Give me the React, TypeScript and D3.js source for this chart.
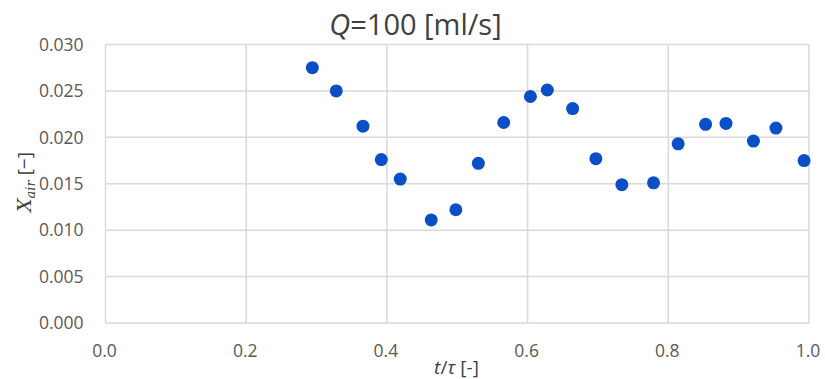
import React from "react";
import * as d3 from "d3";

// Normalized time t/τ and air fraction X_air for each measurement
const tRatio = [0.294, 0.328, 0.366, 0.392, 0.419, 0.463, 0.498, 0.530, 0.566, 0.604, 0.628, 0.664, 0.697, 0.734, 0.779, 0.814, 0.853, 0.882, 0.921, 0.953, 0.993];
const xAir = [0.0275, 0.0250, 0.0212, 0.0176, 0.0155, 0.0111, 0.0122, 0.0172, 0.0216, 0.0244, 0.0251, 0.0231, 0.0177, 0.0149, 0.0151, 0.0193, 0.0214, 0.0215, 0.0196, 0.0210, 0.0175];

const xTicks = [0, 0.2, 0.4, 0.6, 0.8, 1.0];
const yTicks = [0, 0.005, 0.01, 0.015, 0.02, 0.025, 0.03];

const W = 825;
const H = 379;
const FONT = "'Open Sans', 'Noto Sans', sans-serif";

export default function App() {
  const x = d3.scaleLinear().domain([0, 1]).range([105.5, 809]);
  const y = d3.scaleLinear().domain([0, 0.03]).range([323, 44.5]);
  const pts = tRatio.map((t, i) => ({ t, v: xAir[i] }));

  return (
    <svg width={W} height={H} style={{ position: "absolute", left: 0, top: 0, background: "#fff" }}>
      <rect width={W} height={H} fill="#fff" />
      {/* grid */}
      {yTicks.map((v) => (
        <line key={"gy" + v} x1={x(0)} x2={x(1)} y1={y(v)} y2={y(v)} stroke="#d9d9d9" strokeWidth={1.5} />
      ))}
      {xTicks.map((v) => (
        <line key={"gx" + v} x1={x(v)} x2={x(v)} y1={y(0)} y2={y(0.03)} stroke="#d9d9d9" strokeWidth={1.5} />
      ))}
      {/* tick labels */}
      {yTicks.map((v) => (
        <text key={"ty" + v} x={83.5} y={y(v) + 6.3} textAnchor="end" fontSize={17.5} fill="#595959" fontFamily={FONT}>
          {d3.format(".3f")(v)}
        </text>
      ))}
      {xTicks.map((v) => (
        <text key={"tx" + v} x={x(v) - 1} y={357} textAnchor="middle" fontSize={17.5} fill="#595959" fontFamily={FONT}>
          {d3.format(".1f")(v)}
        </text>
      ))}
      {/* points */}
      {pts.map((p, i) => (
        <circle key={i} cx={x(p.t)} cy={y(p.v)} r={6.5} fill="#0b4fc6" />
      ))}
      {/* title */}
      <text x={415.5} y={35} textAnchor="middle" fontSize={29} fill="#404040" fontFamily={FONT}>
        <tspan fontStyle="italic">Q</tspan>=100 [ml/s]
      </text>
      {/* axis titles */}
      <text x={456.5} y={374} textAnchor="middle" fontSize={19} fill="#404040" fontFamily={FONT}>
        <tspan fontStyle="italic">t</tspan>/<tspan fontStyle="italic">τ</tspan> [-]
      </text>
      <text transform="translate(31,182) rotate(-90)" textAnchor="middle" fontSize={19} fill="#404040" fontFamily="'DejaVu Serif', serif">
        <tspan fontStyle="italic">X</tspan>
        <tspan fontStyle="italic" fontSize={13} dy={4}>air</tspan>
        <tspan dy={-4} fontFamily={FONT}> [−]</tspan>
      </text>
    </svg>
  );
}
